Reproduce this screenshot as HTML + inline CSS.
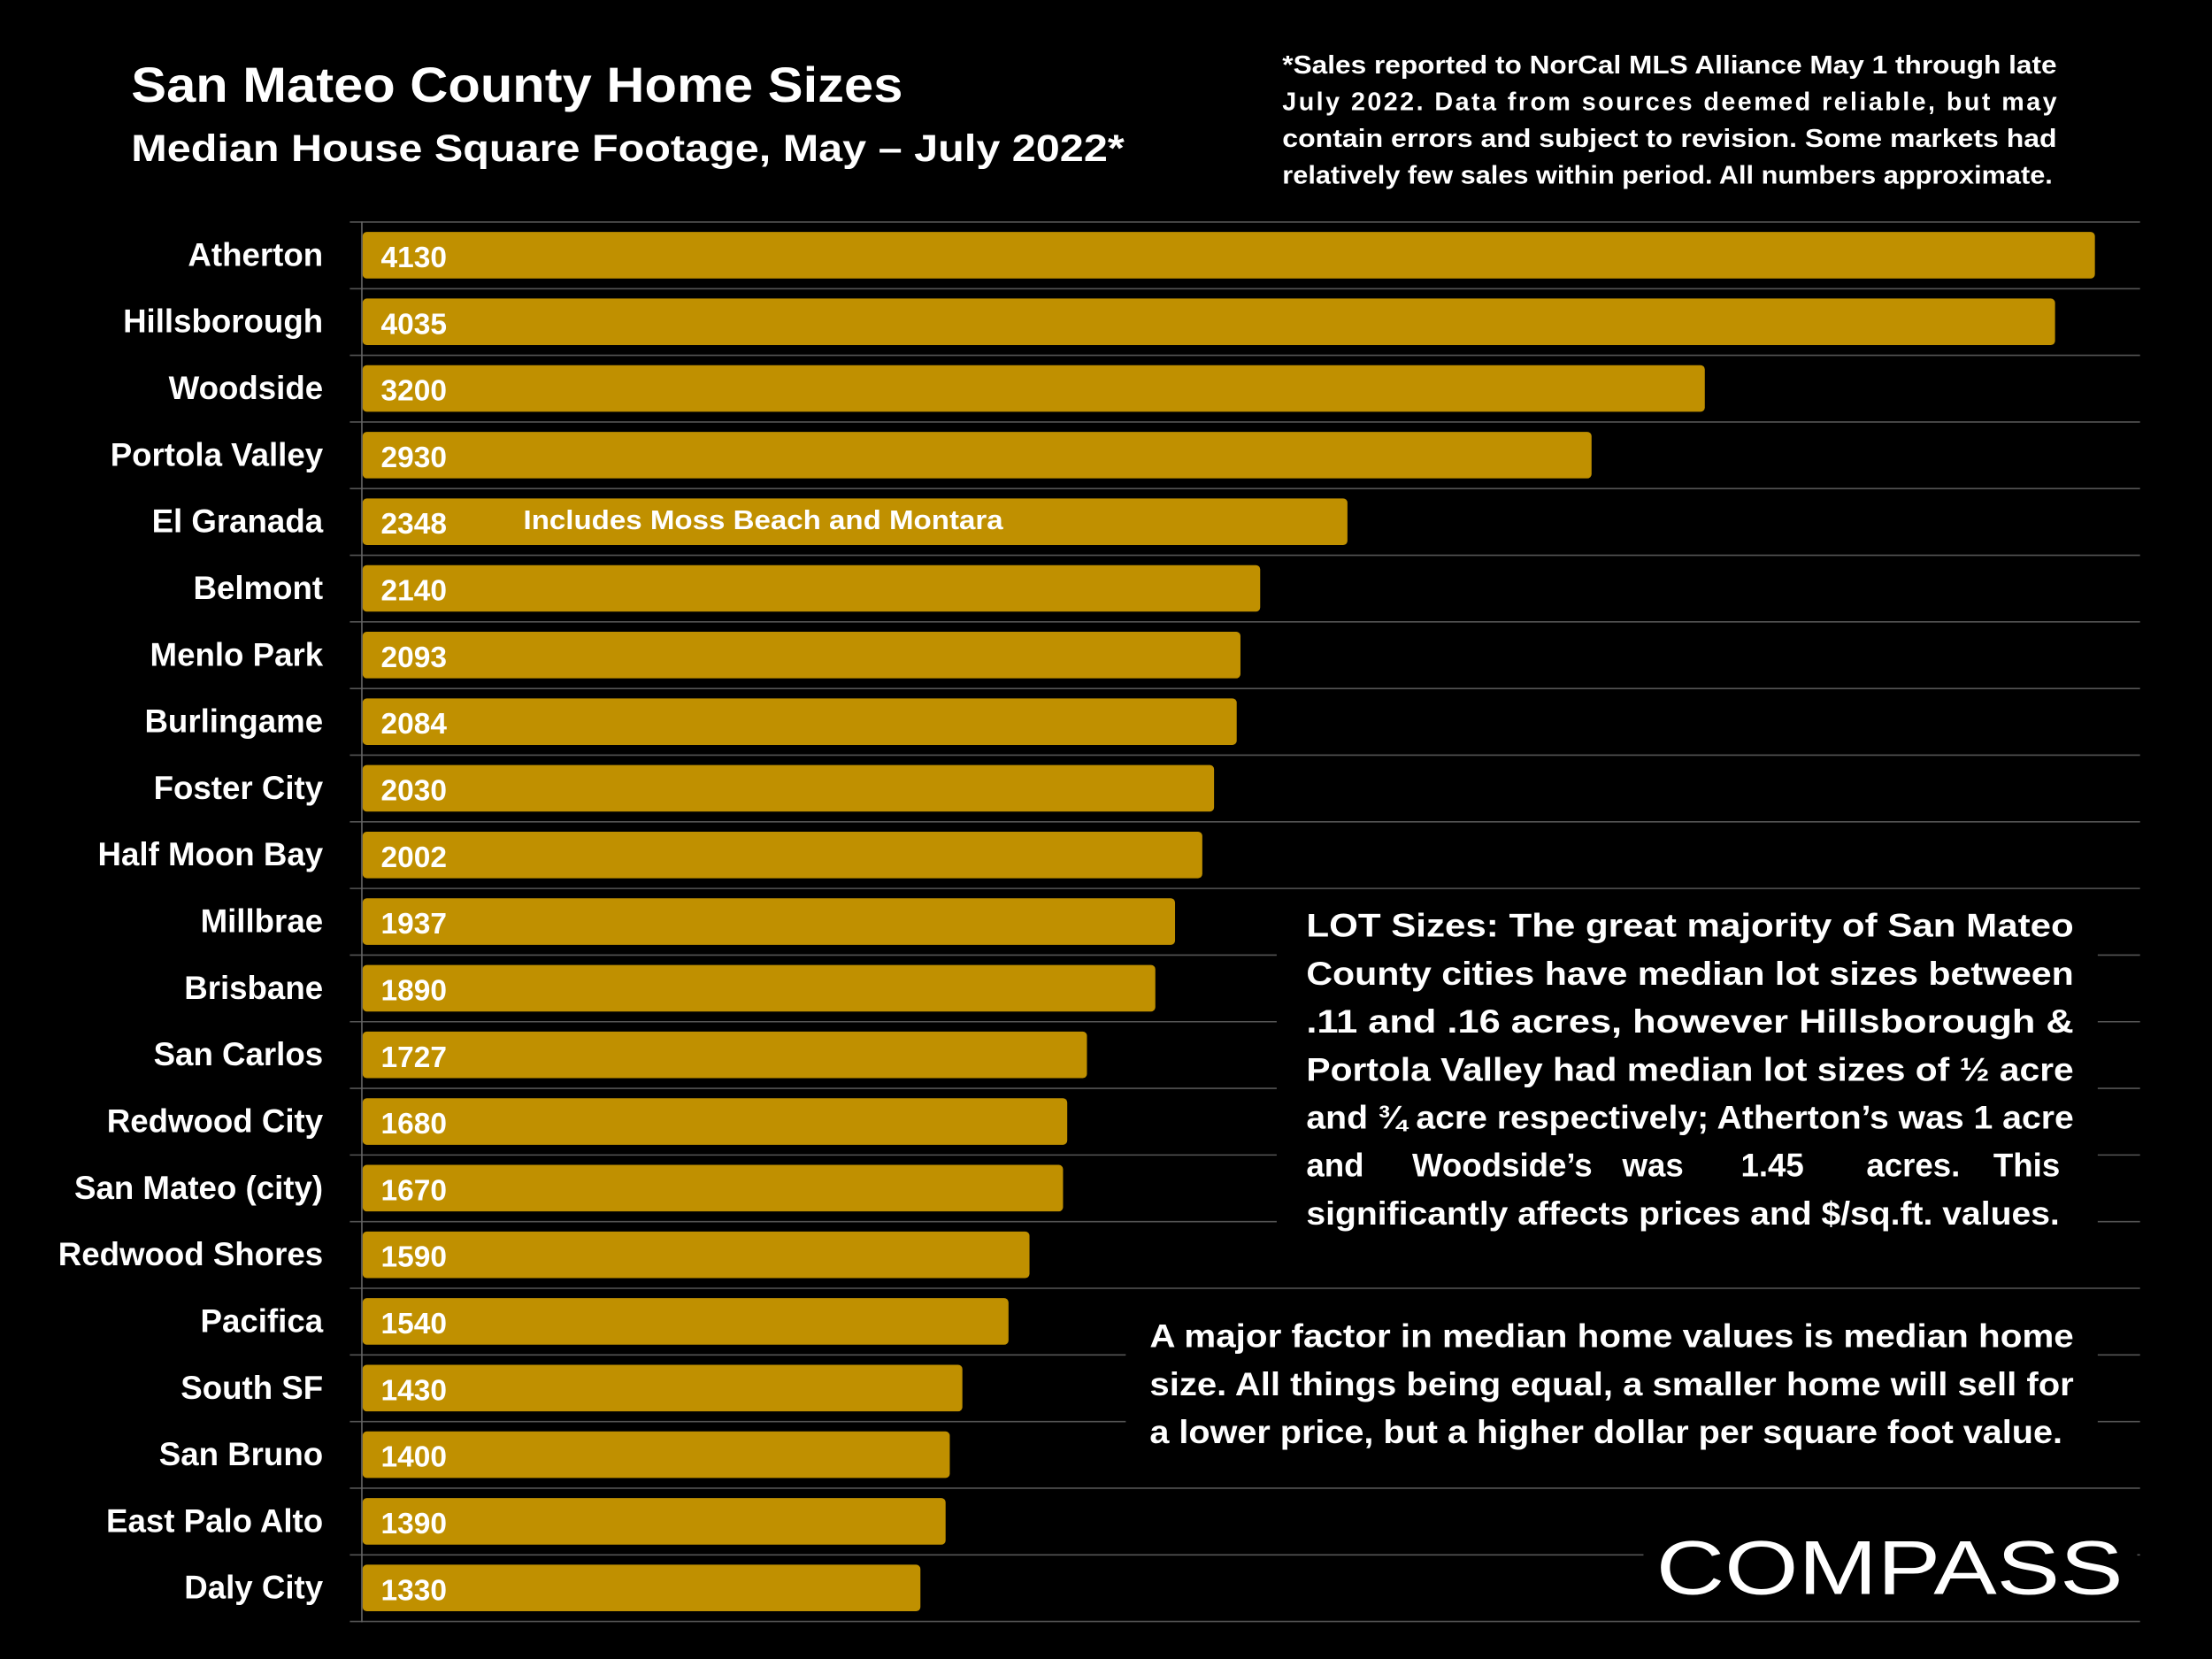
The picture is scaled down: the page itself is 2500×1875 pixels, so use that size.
<!DOCTYPE html>
<html><head><meta charset="utf-8">
<style>
html,body{margin:0;padding:0;background:#000;}
svg{display:block;}
text{font-family:"Liberation Sans",sans-serif;font-weight:bold;fill:#fff;}
</style></head>
<body>
<svg id="chart" width="2500" height="1875" viewBox="0 0 1568 1176" xmlns="http://www.w3.org/2000/svg">
<rect x="0" y="0" width="1568" height="1176" fill="#000"/>
<g id="grid"></g>
<g id="bars"></g>
<g id="cats"></g>
<line x1="256.5" y1="157" x2="256.5" y2="1150" stroke="#666" stroke-width="1"/>

<text x="93" y="72" font-size="35" textLength="547" lengthAdjust="spacingAndGlyphs">San Mateo County Home Sizes</text>
<text x="93" y="114" font-size="27" textLength="704" lengthAdjust="spacingAndGlyphs">Median House Square Footage, May – July 2022*</text>

<g font-size="18">
<text x="909" y="52" textLength="549" lengthAdjust="spacingAndGlyphs">*Sales reported to NorCal MLS Alliance May 1 through late</text>
<text x="909" y="78" textLength="549" lengthAdjust="spacing">July 2022. Data from sources deemed reliable, but may</text>
<text x="909" y="104" textLength="549" lengthAdjust="spacingAndGlyphs">contain errors and subject to revision. Some markets had</text>
<text x="909" y="130" textLength="546" lengthAdjust="spacingAndGlyphs">relatively few sales within period. All numbers approximate.</text>
</g>

<text x="371" y="375" font-size="19" textLength="340" lengthAdjust="spacingAndGlyphs">Includes Moss Beach and Montara</text>

<rect x="905" y="634" width="582" height="246" fill="#000"/>
<g font-size="23">
<text x="926" y="664" textLength="544" lengthAdjust="spacingAndGlyphs">LOT Sizes: The great majority of San Mateo</text>
<text x="926" y="698" textLength="544" lengthAdjust="spacingAndGlyphs">County cities have median lot sizes between</text>
<text x="926" y="732" textLength="544" lengthAdjust="spacingAndGlyphs">.11 and .16 acres, however Hillsborough &amp;</text>
<text x="926" y="766" textLength="544" lengthAdjust="spacingAndGlyphs">Portola Valley had median lot sizes of ½ acre</text>
<text x="926" y="800" textLength="544" lengthAdjust="spacingAndGlyphs">and ¾ acre respectively; Atherton’s was 1 acre</text>
<text x="926" y="834">and</text><text x="1001" y="834">Woodside’s</text><text x="1150" y="834">was</text><text x="1234" y="834">1.45</text><text x="1323" y="834">acres.</text><text x="1413" y="834">This</text>
<text x="926" y="868" textLength="534" lengthAdjust="spacingAndGlyphs">significantly affects prices and $/sq.ft. values.</text>
</g>

<rect x="798" y="917" width="689" height="126" fill="#000"/>
<g font-size="23">
<text x="815" y="955" textLength="655" lengthAdjust="spacingAndGlyphs">A major factor in median home values is median home</text>
<text x="815" y="989" textLength="655" lengthAdjust="spacingAndGlyphs">size. All things being equal, a smaller home will sell for</text>
<text x="815" y="1023" textLength="647" lengthAdjust="spacingAndGlyphs">a lower price, but a higher dollar per square foot value.</text>
</g>

<rect x="1165" y="1080" width="350" height="62" fill="#000"/>
<g>
<text x="1174" y="1130" font-size="54" style="font-weight:normal" textLength="331" lengthAdjust="spacingAndGlyphs">COMPASS</text>
</g>

<script>
const categories = ["Atherton","Hillsborough","Woodside","Portola Valley","El Granada","Belmont","Menlo Park","Burlingame","Foster City","Half Moon Bay","Millbrae","Brisbane","San Carlos","Redwood City","San Mateo (city)","Redwood Shores","Pacifica","South SF","San Bruno","East Palo Alto","Daly City"];
const values = [4130,4035,3200,2930,2348,2140,2093,2084,2030,2002,1937,1890,1727,1680,1670,1590,1540,1430,1400,1390,1330];
const valueLabels = ["4130","4035","3200","2930","2348","2140","2093","2084","2030","2002","1937","1890","1727","1680","1670","1590","1540","1430","1400","1390","1330"];

const NS = "http://www.w3.org/2000/svg";
const x0 = 257, pxPerUnit = 1228 / 4130;
const top0 = 157.4, rowH = 992 / 21;
function xScale(v){ return x0 + v * pxPerUnit; }
function yRow(i){ return top0 + i * rowH; }
const grid = document.getElementById('grid');
const bars = document.getElementById('bars');
const cats = document.getElementById('cats');
for (let i = 0; i <= categories.length; i++) {
  const l = document.createElementNS(NS,'line');
  
  
  const y = yRow(i);
  l.setAttribute('x1',248); l.setAttribute('x2',1517);
  l.setAttribute('y1',y); l.setAttribute('y2',y);
  l.setAttribute('stroke','#555'); l.setAttribute('stroke-width','1');
  grid.appendChild(l);
}
categories.forEach((c,i)=>{
  const y = yRow(i);
  const r = document.createElementNS(NS,'rect');
  
  
  r.setAttribute('x', x0);
  r.setAttribute('y', y + 7);
  r.setAttribute('width', xScale(values[i]) - x0);
  r.setAttribute('height', 33);
  r.setAttribute('rx', 3);
  r.setAttribute('fill', '#C09000');
  bars.appendChild(r);
  const t = document.createElementNS(NS,'text');
  
  
  t.setAttribute('x', 270); t.setAttribute('y', y + 32);
  t.setAttribute('font-size', 21);
  t.textContent = valueLabels[i];
  bars.appendChild(t);
  const cl = document.createElementNS(NS,'text');
  
  
  cl.setAttribute('x', 229); cl.setAttribute('y', y + 31);
  cl.setAttribute('font-size', 23);
  cl.setAttribute('text-anchor','end');
  cl.textContent = c;
  cats.appendChild(cl);
});
</script>
</svg>
</body></html>
